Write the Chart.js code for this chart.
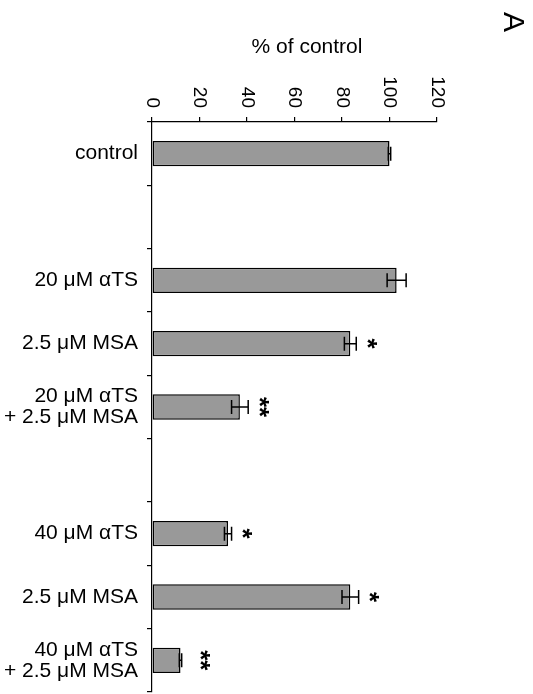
<!DOCTYPE html>
<html>
<head>
<meta charset="utf-8">
<script src="https://cdn.jsdelivr.net/npm/chart.js@4/dist/chart.umd.min.js"></script>
<style>
  body { margin: 0; background: #fff; }
</style>
</head>
<body>
<canvas id="myChart" width="533" height="694"></canvas>
<script>
// data
const categories = ['control', '', '20 μM αTS', '2.5 μM MSA', ['20 μM αTS', '+ 2.5 μM MSA'], '', '40 μM αTS', '2.5 μM MSA', ['40 μM αTS', '+ 2.5 μM MSA']];
const values = [100, null, 103, 83.5, 37, null, 32, 83.5, 12];
const errors = [0.5, null, 4, 2.5, 3.5, null, 1.5, 3.5, 0.5];
const stars = ['', '', '', '*', '**', '', '*', '*', '**'];
const xTicks = [0, 20, 40, 60, 80, 100, 120];
const axisTitle = '% of control';
const panelLetter = 'A';

const FONT = "'Liberation Sans', Arial, sans-serif";

// error bars, asterisks, rotated tick labels, title
const extras = {
    id: 'extras',
    afterDatasetsDraw(chart) {
        const ctx = chart.ctx;
        const x = chart.scales.x;
        const y = chart.scales.y;
        ctx.save();
        ctx.strokeStyle = '#000';
        ctx.lineWidth = 1.5;
        values.forEach((v, i) => {
            if (v === null) return;
            const e = errors[i];
            const cy = y.getPixelForValue(i);
            const x1 = x.getPixelForValue(v - e);
            const x2 = x.getPixelForValue(v + e);
            ctx.beginPath();
            ctx.moveTo(x1, cy); ctx.lineTo(x2, cy);
            ctx.moveTo(x1, cy - 7); ctx.lineTo(x1, cy + 7);
            ctx.moveTo(x2, cy - 7); ctx.lineTo(x2, cy + 7);
            ctx.stroke();

            if (stars[i]) {
                // the short bars have their stars set further out
                const sx = Math.max(x2 + 10, x.getPixelForValue(20));
                ctx.save();
                ctx.translate(sx, cy);
                ctx.rotate(Math.PI / 2);
                ctx.fillStyle = '#000';
                ctx.font = 'bold 26px ' + FONT;
                ctx.textAlign = 'center';
                ctx.textBaseline = 'middle';
                ctx.fillText(stars[i], 0, 0);
                ctx.restore();
            }
        });

        // x tick labels, turned a quarter clockwise
        ctx.fillStyle = '#000';
        ctx.font = '19px ' + FONT;
        ctx.textAlign = 'right';
        ctx.textBaseline = 'middle';
        xTicks.forEach(t => {
            ctx.save();
            ctx.translate(x.getPixelForValue(t), 108);
            ctx.rotate(Math.PI / 2);
            ctx.fillText(String(t), 0, 0);
            ctx.restore();
        });

        ctx.font = '21px ' + FONT;
        ctx.textAlign = 'center';
        ctx.textBaseline = 'alphabetic';
        ctx.fillText(axisTitle, 307, 53);

        ctx.save();
        ctx.translate(512, 22);
        ctx.rotate(Math.PI / 2);
        ctx.font = '30px ' + FONT;
        ctx.textBaseline = 'middle';
        ctx.fillText(panelLetter, 0, 0);
        ctx.restore();
        ctx.restore();
    }
};

Chart.defaults.color = '#000';
Chart.defaults.font.family = FONT;

const ctx = document.getElementById('myChart').getContext('2d');
new Chart(ctx, {
    type: 'bar',
    data: {
        labels: categories,
        datasets: [{
            data: values,
            backgroundColor: '#999999',
            borderColor: '#000',
            borderWidth: 1.5,
            borderSkipped: false,
            barPercentage: 0.4,
            categoryPercentage: 1.0
        }]
    },
    options: {
        indexAxis: 'y',
        responsive: false,
        animation: false,
        devicePixelRatio: 1,
        layout: { padding: { left: 0, right: 96, top: 0, bottom: 2 } },
        plugins: { legend: { display: false }, tooltip: { enabled: false } },
        scales: {
            x: {
                position: 'top',
                min: 0,
                max: 120,
                ticks: { stepSize: 20, display: false },
                grid: { drawOnChartArea: false, color: '#000', tickLength: 5, lineWidth: 1.2 },
                border: { color: '#000', width: 1.2 },
                afterFit(scale) {
                    scale.height = 122;
                    scale.paddingLeft = 0; scale.paddingRight = 0;
                }
            },
            y: {
                ticks: {
                    padding: 9,
                    font: { size: 21, lineHeight: 1.0 },
                    color: '#000',
                    autoSkip: false
                },
                grid: { drawOnChartArea: false, color: '#000', tickLength: 5, lineWidth: 1.2 },
                border: { color: '#000', width: 1.2 },
                afterFit(scale) {
                    scale.width = 152;
                    scale.paddingTop = 0; scale.paddingBottom = 0;
                }
            }
        }
    },
    plugins: [extras]
});
</script>
</body>
</html>
